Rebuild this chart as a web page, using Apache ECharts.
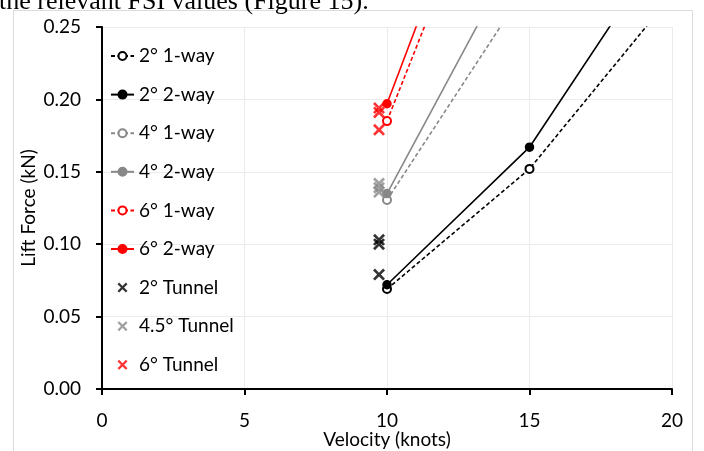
<!DOCTYPE html>
<html>
<head>
<meta charset="utf-8">
<script src="https://cdn.jsdelivr.net/npm/echarts@6/dist/echarts.min.js"></script>
<style>
  html, body { margin: 0; padding: 0; background: #fff; }
  #chart { width: 704px; height: 451px; }
</style>
</head>
<body>
<div id="chart"></div>
<script>
// Velocity axis ticks (knots) and lift axis ticks (kN)
const xTicks = [0, 5, 10, 15, 20];
const yTicks = [0, 0.05, 0.10, 0.15, 0.20, 0.25];

// Simulated lift, [velocity, lift]
const deg2OneWay = [[10, 0.069], [15, 0.152], [20, 0.272]];
const deg2TwoWay = [[10, 0.072], [15, 0.167], [20, 0.315]];
const deg4OneWay = [[10, 0.1305], [15, 0.281]];
const deg4TwoWay = [[10, 0.135], [15, 0.318]];
const deg6OneWay = [[10, 0.185], [15, 0.433]];
const deg6TwoWay = [[10, 0.197], [15, 0.457]];

// Towing tunnel measurements at 5 m/s
const tunnelVelocity = 9.72;
const tunnel2 = [0.079, 0.100, 0.103];
const tunnel45 = [0.136, 0.139, 0.142];
const tunnel6 = [0.179, 0.191, 0.194];

const BLACK = '#000000';
const GREY = '#888888';
const RED = '#ff0000';
const FONT = 'Lato';
const FS = 19;

const cross = 'path://M0,1.6L1.6,0L5,3.4L8.4,0L10,1.6L6.6,5L10,8.4L8.4,10L5,6.6L1.6,10L0,8.4L3.4,5Z';

function lineSeries(name, data, color, dashed) {
  return {
    name: name,
    type: 'line',
    data: data,
    symbol: dashed ? 'emptyCircle' : 'circle',
    symbolSize: 8,
    showSymbol: true,
    lineStyle: { color: color, width: 1.6, type: dashed ? [4, 2.5] : 'solid' },
    itemStyle: { color: color, borderColor: color, borderWidth: 1.5 },
    clip: true,
    z: 3
  };
}

function tunnelSeries(name, values, color) {
  return {
    name: name,
    type: 'scatter',
    data: values.map(v => [tunnelVelocity, v]),
    symbol: cross,
    symbolSize: 12,
    itemStyle: { color: color },
    clip: true,
    z: 4
  };
}

const chart = echarts.init(document.getElementById('chart'), null, { renderer: 'canvas' });

chart.setOption({
  backgroundColor: '#ffffff',
  animation: false,
  textStyle: { fontFamily: FONT },
  grid: {
    left: 102, right: 32, top: 27, bottom: 62,
    containLabel: false,
    outerBoundsMode: 'none'
  },
  graphic: [
    {
      type: 'rect',
      shape: { x: 13.5, y: 10.5, width: 679, height: 460 },
      style: { fill: 'none', stroke: '#dcdcdc', lineWidth: 1 },
      silent: true,
      z: -1
    },
    {
      type: 'text',
      x: -1,
      y: -11,
      style: {
        text: 'the relevant FSI values (Figure 15).',
        font: '26px "Liberation Serif"',
        fill: '#000'
      },
      silent: true
    }
  ],
  legend: {
    orient: 'vertical',
    left: 110,
    top: 46,
    padding: 0,
    itemWidth: 23,
    itemHeight: 10,
    itemGap: 18.6,
    textStyle: { fontFamily: FONT, fontSize: FS, color: '#000', lineHeight: 20 },
    data: ['2° 1-way', '2° 2-way', '4° 1-way', '4° 2-way', '6° 1-way', '6° 2-way',
           '2° Tunnel', '4.5° Tunnel', '6° Tunnel']
  },
  xAxis: {
    type: 'value',
    min: xTicks[0],
    max: xTicks[xTicks.length - 1],
    interval: xTicks[1] - xTicks[0],
    name: 'Velocity (knots)',
    nameLocation: 'middle',
    nameGap: 41,
    nameMoveOverlap: false,
    nameTextStyle: { fontFamily: FONT, fontSize: FS, color: '#000' },
    axisLine: { show: true, lineStyle: { color: '#000', width: 2 } },
    axisTick: { show: true, length: 6, lineStyle: { color: '#000', width: 2 } },
    axisLabel: { fontFamily: FONT, fontSize: FS, color: '#000', margin: 22 },
    splitLine: { show: true, lineStyle: { color: '#ebebeb', width: 1 } }
  },
  yAxis: {
    type: 'value',
    min: yTicks[0],
    max: yTicks[yTicks.length - 1],
    interval: 0.05,
    name: 'Lift Force (kN)',
    nameLocation: 'middle',
    nameGap: 64,
    nameMoveOverlap: false,
    nameTextStyle: { fontFamily: FONT, fontSize: FS, color: '#000' },
    axisLine: { show: true, lineStyle: { color: '#000', width: 2 } },
    axisTick: { show: true, length: 6, lineStyle: { color: '#000', width: 2 } },
    axisLabel: {
      fontFamily: FONT, fontSize: FS, color: '#000', margin: 21,
      formatter: v => v.toFixed(2)
    },
    splitLine: { show: true, lineStyle: { color: '#ebebeb', width: 1 } }
  },
  series: [
    lineSeries('2° 1-way', deg2OneWay, BLACK, true),
    lineSeries('2° 2-way', deg2TwoWay, BLACK, false),
    lineSeries('4° 1-way', deg4OneWay, GREY, true),
    lineSeries('4° 2-way', deg4TwoWay, GREY, false),
    lineSeries('6° 1-way', deg6OneWay, RED, true),
    lineSeries('6° 2-way', deg6TwoWay, RED, false),
    tunnelSeries('2° Tunnel', tunnel2, BLACK),
    tunnelSeries('4.5° Tunnel', tunnel45, GREY),
    tunnelSeries('6° Tunnel', tunnel6, RED)
  ]
});
</script>
</body>
</html>
